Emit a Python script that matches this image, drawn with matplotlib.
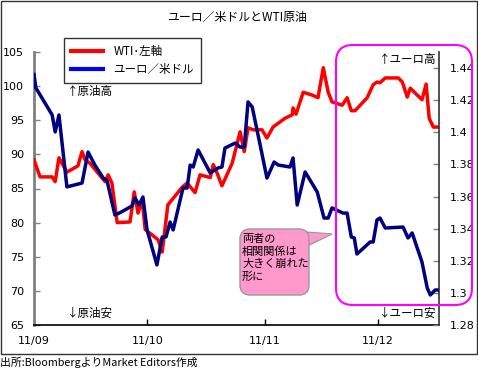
import matplotlib
matplotlib.use("Agg")
import matplotlib.pyplot as plt
from matplotlib.lines import Line2D
from matplotlib.patches import FancyBboxPatch, Rectangle, Polygon

plt.rcParams['font.family'] = ['Noto Sans CJK JP', 'DejaVu Sans']

# days since 2011-09-01
wti_days = [0.0, 1.6, 4.8, 5.6, 6.6, 8.7, 11.6, 12.7, 13.5, 14.8, 18.8, 19.6, 20.6,
            22.0, 25.4, 26.5, 27.5, 28.6, 29.4, 32.8, 33.9, 35.4, 39.2, 40.5, 42.6,
            43.9, 46.6, 47.4, 48.4, 49.7, 52.4, 54.5, 55.6, 56.6, 57.9, 60.3, 61.6,
            63.2, 66.4, 68.3, 68.5, 69.3, 71.2, 73.5, 75.1, 76.5, 77.8, 78.8, 81.5,
            82.8, 83.9, 84.9, 88.1, 89.7, 90.7, 91.5, 92.9, 96.3, 97.4, 98.7, 99.5,
            102.6, 103.7, 104.5, 105.6, 106.9]
wti = [89.2, 86.7, 86.7, 86.0, 89.5, 87.4, 88.3, 90.4, 89.2, 88.7, 86.0, 87.0, 85.8,
       80.0, 80.1, 84.5, 81.4, 83.3, 79.0, 77.5, 75.7, 82.6, 85.2, 85.8, 84.4,
       87.0, 86.6, 88.5, 87.3, 85.4, 88.7, 93.3, 90.4, 93.9, 93.6, 93.6, 92.4,
       94.0, 95.3, 95.8, 96.8, 95.9, 99.1, 98.7, 98.3, 102.7, 99.1, 97.7, 97.2,
       98.3, 96.4, 96.4, 98.3, 100.2, 100.6, 100.5, 101.2, 101.2, 100.6, 98.4, 99.7,
       98.0, 100.3, 95.3, 94.0, 94.0]

eur_days = [0.0, 0.5, 2.1, 4.8, 5.6, 6.6, 8.7, 12.7, 14.3, 16.1, 18.3, 19.3, 21.4,
            22.8, 25.9, 26.7, 27.8, 28.8, 29.9, 32.5, 33.9, 34.9, 36.0, 36.8, 39.4,
            40.5, 41.3, 42.1, 43.4, 46.6, 48.7, 49.7, 50.5, 53.2, 54.5, 55.6, 56.6,
            57.7, 59.8, 61.6, 63.5, 64.6, 67.7, 68.5, 69.6, 71.7, 74.9, 76.7, 77.8,
            78.8, 81.7, 82.8, 83.9, 84.7, 85.4, 88.9, 89.7, 90.7, 91.5, 92.9, 97.6,
            98.9, 100.0, 102.6, 104.0, 104.8, 106.1, 106.9]
eurusd = [1.436, 1.4276, 1.4214, 1.4108, 1.4002, 1.4108, 1.366, 1.3684, 1.3877, 1.3796,
          1.3715, 1.370, 1.3485, 1.350, 1.3541, 1.3591, 1.3547, 1.3597, 1.3392, 1.3174,
          1.3348, 1.3348, 1.3441, 1.3392, 1.3653, 1.3653, 1.3796, 1.3784, 1.389, 1.3747,
          1.3778, 1.3784, 1.3902, 1.3933, 1.3908, 1.3908, 1.4189, 1.4158, 1.3921, 1.3715,
          1.3815, 1.3796, 1.3784, 1.384, 1.3547, 1.3753, 1.3628, 1.3466, 1.3466, 1.3529,
          1.3497, 1.3497, 1.3348, 1.3342, 1.3242, 1.3317, 1.3317, 1.3454, 1.3466, 1.3404,
          1.3410, 1.3342, 1.3373, 1.3192, 1.3030, 1.2987, 1.3018, 1.3018]

month_ticks = [0, 30, 61, 91]
month_labels = ['11/09', '11/10', '11/11', '11/12']
left_ticks = [65, 70, 75, 80, 85, 90, 95, 100, 105]
right_ticks = [1.28, 1.30, 1.32, 1.34, 1.36, 1.38, 1.40, 1.42, 1.44]
right_labels = ['1.28', '1.3', '1.32', '1.34', '1.36', '1.38', '1.4', '1.42', '1.44']

W, H = 478, 369
fig = plt.figure(figsize=(W/100, H/100), dpi=100)
ax = fig.add_axes([34/W, 1-325/H, 405/W, 273/H])
ax2 = ax.twinx()

def px(x, y):
    # pixel position -> axes fraction
    return ((x-34)/405, (325-y)/273)

ax.plot(wti_days, wti, color='#ff0000', lw=2.5, zorder=3)
ax2.plot(eur_days, eurusd, color='#000080', lw=2.5, zorder=3)

ax.set_xlim(0, 107.1)
ax.set_ylim(65, 105)
ax2.set_ylim(1.28, 1.45)
ax.set_xticks(month_ticks)
ax.set_xticklabels(month_labels)
ax.set_yticks(left_ticks)
ax2.set_yticks(right_ticks)
ax2.set_yticklabels(right_labels)

for a in (ax, ax2):
    a.spines['top'].set_visible(False)
    a.tick_params(labelsize=8, direction='in', length=4, width=1, pad=7)
    for lab in a.get_xticklabels() + a.get_yticklabels():
        lab.set_family('DejaVu Sans')
ax.spines['left'].set_color('#808080')
ax.spines['left'].set_linewidth(2)
ax2.spines['left'].set_visible(False)
ax.spines['right'].set_visible(False)
ax2.spines['right'].set_color('#333333')
ax2.spines['right'].set_linewidth(1.2)
ax.spines['bottom'].set_linewidth(1.2)
ax2.spines['bottom'].set_visible(False)
ax.tick_params(axis='y', colors='#808080', labelcolor='black')
ax.tick_params(axis='x', pad=8)
ax2.tick_params(axis='y', colors='#808080', labelcolor='black', pad=8)

# direction labels
ax.text(*px(67, 92), '↑原油高', transform=ax.transAxes, fontsize=8.3, va='center')
ax.text(*px(67, 313), '↓原油安', transform=ax.transAxes, fontsize=8.3, va='center')
ax.text(*px(436, 60), '↑ユーロ高', transform=ax.transAxes, fontsize=8.3, va='center', ha='right')
ax.text(*px(436, 313), '↓ユーロ安', transform=ax.transAxes, fontsize=8.3, va='center', ha='right')

# callout
ax.add_patch(Polygon([px(305, 232), px(305, 247), px(332, 234)], closed=True,
                     transform=ax.transAxes, fc='#ff99cc', ec='#999999', lw=1, zorder=6))
fig.patches.append(FancyBboxPatch((2.40, 0.74), 0.69, 0.66,
                                  boxstyle='round,pad=0,rounding_size=0.1',
                                  transform=fig.dpi_scale_trans, fc='#ff99cc',
                                  ec='#999999', lw=1, zorder=7))
ax.add_patch(Polygon([px(304, 233), px(304, 246), px(331, 234)], closed=True,
                     transform=ax.transAxes, fc='#ff99cc', ec='none', zorder=8))
fig.text(242/W, 1-234/H, '両者の\n相関関係は\n大きく崩れた\n形に', fontsize=8,
         va='top', ha='left', linespacing=1.25, zorder=9)

# legend
handles = [Line2D([], [], color='#ff0000', lw=3),
           Line2D([], [], color='#0000ff', lw=3)]
leg = fig.legend(handles, ['WTI･左軸', 'ユーロ／米ドル'], loc='upper left',
                 bbox_to_anchor=(64/W, 1-38/H), fontsize=8.3, fancybox=False,
                 frameon=True, handlelength=2.8, borderpad=0.6, labelspacing=0.45,
                 handletextpad=0.9, borderaxespad=0)
leg.get_frame().set_edgecolor('black')
leg.get_frame().set_linewidth(1)

# magenta highlight box
fig.patches.append(FancyBboxPatch((3.36, 0.64), 1.36, 2.60,
                                  boxstyle='round,pad=0,rounding_size=0.17',
                                  transform=fig.dpi_scale_trans, fill=False,
                                  ec='#ff00ff', lw=1.5, zorder=5))
# outer frame
fig.patches.append(Rectangle((0.005, 0.15), 4.765, 3.535, transform=fig.dpi_scale_trans,
                             fill=False, ec='#333333', lw=1))

fig.text(237/W, 1-17/H, 'ユーロ／米ドルとWTI原油', ha='center', va='center', fontsize=8.6)
fig.text(0.0, 1-362/H, '出所:BloombergよりMarket Editors作成', ha='left', va='center', fontsize=7.8)

fig.savefig('out.png', dpi=100)
